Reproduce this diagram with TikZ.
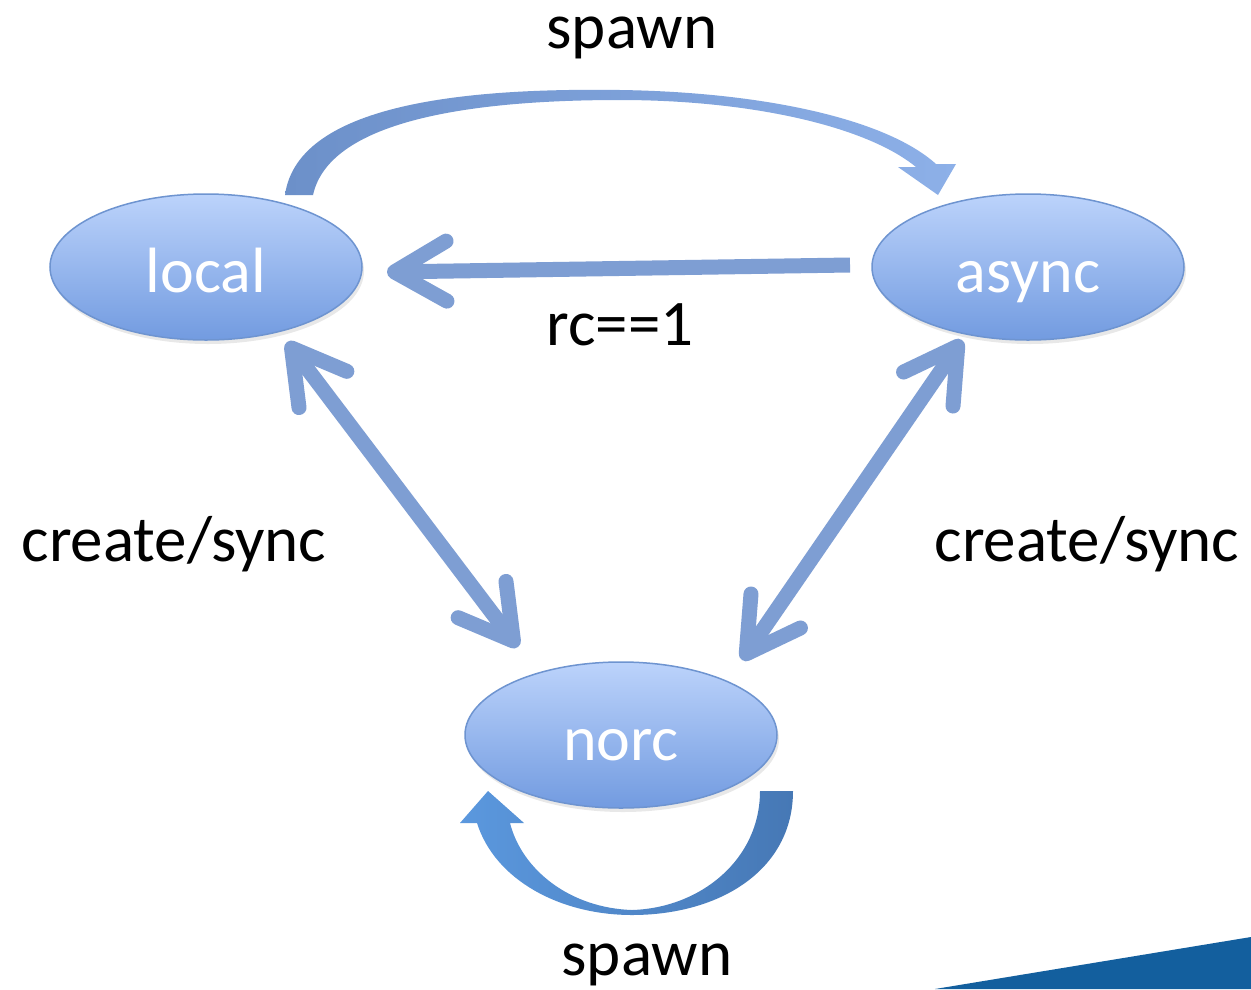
\documentclass[tikz,border=0pt]{standalone}
\usepackage{fontspec}
\setmainfont{Carlito}
\usetikzlibrary{arrows.meta,shapes.geometric,calc,shadows}
\definecolor{arrowblue}{RGB}{126,158,211}
\definecolor{elltop}{RGB}{188,211,251}
\definecolor{ellbot}{RGB}{114,155,224}
\definecolor{ellborder}{RGB}{110,148,208}
\definecolor{cornerblue}{RGB}{19,95,158}
\definecolor{topleft}{RGB}{108,144,201}
\definecolor{topright}{RGB}{141,176,232}
\definecolor{botleft}{RGB}{91,152,222}
\definecolor{botmid}{RGB}{160,192,238}
\definecolor{botright}{RGB}{70,120,181}
\begin{document}
\begin{tikzpicture}[x=1pt,y=-1pt,
  state/.style={ellipse, minimum width=312pt, minimum height=146pt, inner sep=0pt,
    draw=ellborder, line width=1.5pt, top color=elltop, bottom color=ellbot,
    text=white, font=\fontsize{64}{70}\selectfont, text height=51pt, text depth=0pt,
    drop shadow={opacity=0.18, shadow xshift=2pt, shadow yshift=-4pt}},
  lbl/.style={font=\fontsize{65}{70}\selectfont, text=black, anchor=base, inner sep=0pt},
  barb/.style={},
  conn/.style={draw=arrowblue, line width=15pt, line cap=butt,
    -{Straight Barb[length=52pt, width=60pt, round]}},
  bconn/.style={draw=arrowblue, line width=15pt,
    {Straight Barb[length=52pt, width=60pt, round]}-{Straight Barb[length=52pt, width=60pt, round]}}
]
\useasboundingbox (0,0) rectangle (1251,989);
\fill[white] (0,0) rectangle (1251,989);

% corner decoration
\fill[cornerblue] (935,989) -- (1251,937) -- (1251,989) -- cycle;

% states
\node[state] (local) at (206,267) {local};
\node[state] (async) at (1028,267) {async};
\node[state] (norc)  at (621,735) {norc};

% top curved arrow (spawn)
\shade[left color=topleft, right color=topright]
  (285,195) .. controls (298,100) and (480,88) .. (620,90)
  .. controls (760,92) and (885,118) .. (936,164)
  -- (956,164) -- (938,195) -- (898,167) -- (916,167)
  .. controls (866,126) and (750,100) .. (620,100)
  .. controls (480,100) and (330,118) .. (313,195) -- cycle;

% bottom curved arrow (spawn, self loop)
\shade[left color=botleft, middle color=botmid, right color=botright]
  (793,791) -- (760,791)
  .. controls (760,860) and (700,908) .. (632,910)
  .. controls (570,908) and (522,870) .. (510,823)
  -- (524,823) -- (488,791) -- (460,823) -- (477,823)
  .. controls (495,880) and (560,915) .. (632,915)
  .. controls (720,915) and (793,870) .. (793,791) -- cycle;

% straight connectors
\draw[conn] ($(async)+(-178,-2)$) -- ($(local)+(181,5)$);
\draw[bconn] ($(local)+(81,75)$) -- ($(norc)+(-103,-88)$);
\draw[bconn] ($(async)+(-66,73)$) -- ($(norc)+(121,-75)$);

% labels
\node[lbl] (spawnTop) at (632,48) {spawn};
\node[lbl] (rc) at (620,345) {rc==1};
\node[lbl] (csL) at (174,561) {create/sync};
\node[lbl] (csR) at (1087,561) {create/sync};
\node[lbl] (spawnBot) at (647,975) {spawn};
\end{tikzpicture}
\end{document}
